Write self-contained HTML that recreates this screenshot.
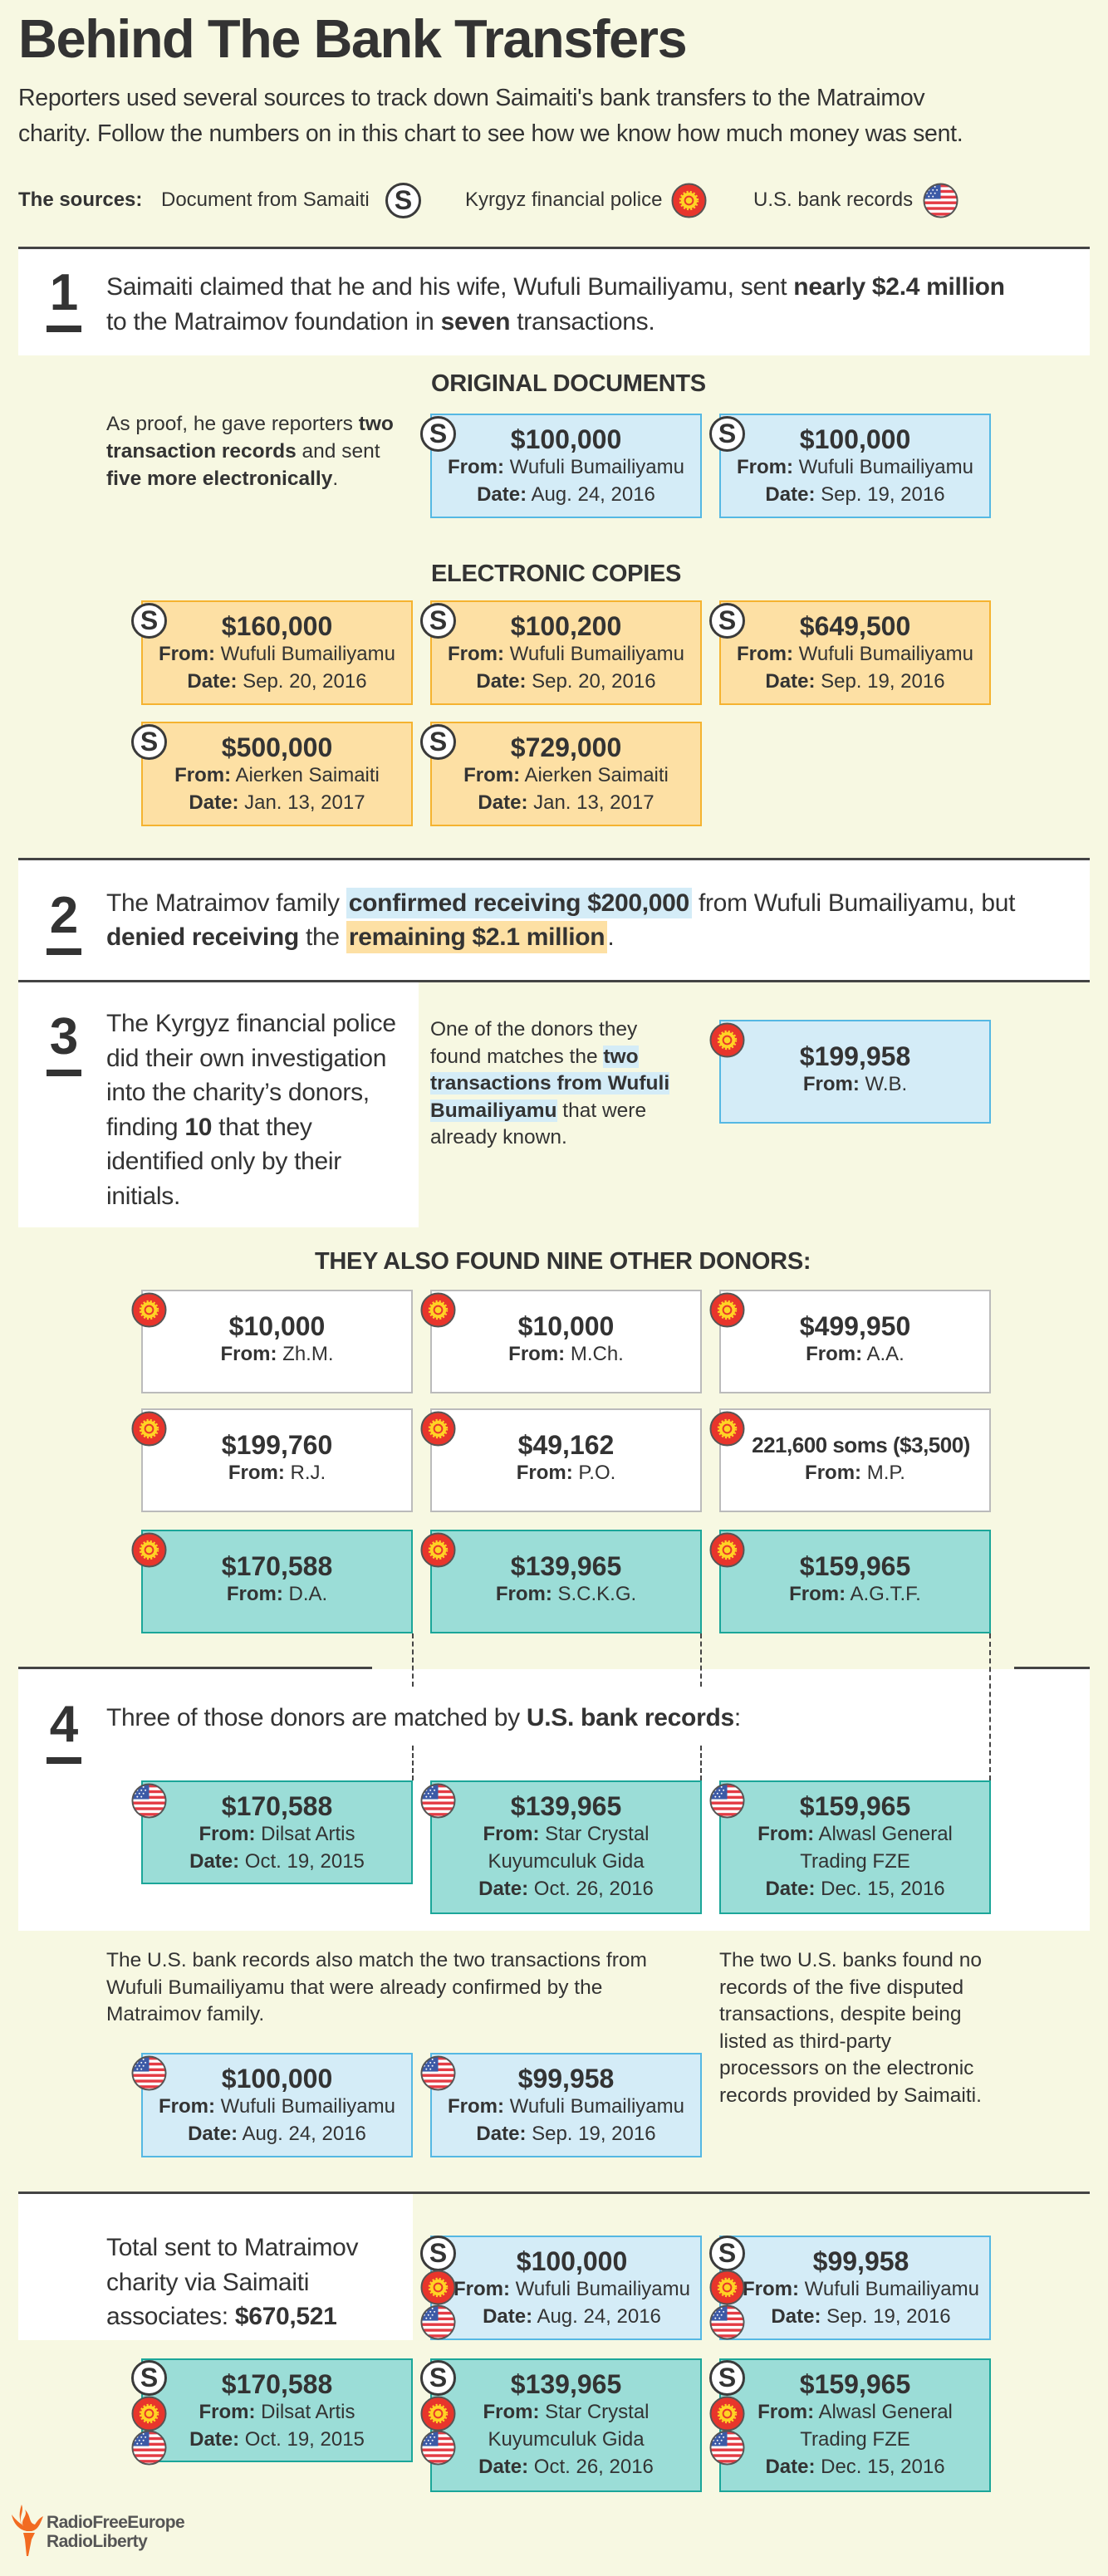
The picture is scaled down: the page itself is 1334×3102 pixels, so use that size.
<!DOCTYPE html>
<html><head><meta charset="utf-8">
<style>
*{margin:0;padding:0;box-sizing:border-box}
body{width:1334px;height:3102px;background:#f7f8e2;font-family:"Liberation Sans",sans-serif;color:#333;position:relative;overflow:hidden}
.a{position:absolute;white-space:nowrap}
.rule{position:absolute;height:3px;background:#444}
.wbox{position:absolute;background:#fff}
.num{position:absolute;left:56px;width:42px;font-weight:bold;font-size:62px;line-height:62px;text-align:center;color:#333}
.num:after{content:"";position:absolute;left:0;right:0;bottom:-16px;height:8px;background:#333}
.big{font-size:30px;line-height:41.5px;color:#333;letter-spacing:-0.3px}
.sm{font-size:24.5px;line-height:32.5px;color:#333}
.hd{font-weight:bold;font-size:29px;color:#333;letter-spacing:-0.3px}
.card{position:absolute;width:327px;height:126px;text-align:center;padding-top:12px;font-size:24px;line-height:33px;color:#333;white-space:nowrap}
.card .m{font-weight:bold;font-size:32px;line-height:34px}
.card.two{padding-top:25px}
.blue{background:#d4ecf7;border:2px solid #55b8e3}
.orange{background:#fde0a4;border:2px solid #f5b330}
.white{background:#fff;border:2px solid #bbb}
.teal{background:#9bddd7;border:2px solid #1ba699}
.ic{position:absolute;width:43px;height:43px}
.si{position:absolute;width:43px;height:43px;border-radius:50%;background:#fff;border:3px solid #3a3a3a;font-weight:bold;font-size:32px;line-height:37px;text-align:center;color:#333}
.hb{background:#d4ecf7}
.ho{background:#fde0a4}
.dot{position:absolute;width:0;border-left:2px dashed #444}
</style></head><body>
<svg width="0" height="0" style="position:absolute">
<defs>
<symbol id="kg" viewBox="0 0 44 44"><circle cx="22" cy="22" r="20.5" fill="#e8352c" stroke="#555" stroke-width="2"/><circle cx="22" cy="22" r="10" fill="#ffd324" stroke="#ffd324" stroke-width="4" stroke-dasharray="2 2"/><circle cx="22" cy="22" r="6" fill="#e8352c"/><circle cx="22" cy="22" r="4" fill="#ffd324"/></symbol>
<clipPath id="cc"><circle cx="22" cy="22" r="20"/></clipPath>
<symbol id="us" viewBox="0 0 44 44"><g clip-path="url(#cc)"><rect width="44" height="44" fill="#fff"/><rect y="2" width="44" height="3.5" fill="#e43b44"/><rect y="9" width="44" height="3.5" fill="#e43b44"/><rect y="16" width="44" height="3.5" fill="#e43b44"/><rect y="23" width="44" height="3.5" fill="#e43b44"/><rect y="30" width="44" height="3.5" fill="#e43b44"/><rect y="37" width="44" height="3.5" fill="#e43b44"/><rect width="22" height="20" fill="#3c5aa6"/><g fill="#fff"><circle cx="5" cy="5" r="1"/><circle cx="10" cy="5" r="1"/><circle cx="15" cy="5" r="1"/><circle cx="7.5" cy="9" r="1"/><circle cx="12.5" cy="9" r="1"/><circle cx="17.5" cy="9" r="1"/><circle cx="5" cy="13" r="1"/><circle cx="10" cy="13" r="1"/><circle cx="15" cy="13" r="1"/><circle cx="7.5" cy="17" r="1"/><circle cx="12.5" cy="17" r="1"/></g></g><circle cx="22" cy="22" r="20.5" fill="none" stroke="#555" stroke-width="2"/></symbol>
</defs></svg>

<!-- Header -->
<div class="a" style="left:22px;top:10px;font-size:65px;line-height:74px;font-weight:bold;letter-spacing:-1.5px;color:#333">Behind The Bank Transfers</div>
<div class="a" style="left:22px;top:97px;font-size:28.5px;line-height:43px;color:#333;letter-spacing:-0.3px">Reporters used several sources to track down Saimaiti's bank transfers to the Matraimov<br>charity. Follow the numbers on in this chart to see how we know how much money was sent.</div>
<div class="a" style="left:22px;top:226px;font-size:24px;line-height:30px;font-weight:bold">The sources:</div>
<div class="a" style="left:194px;top:226px;font-size:24px;line-height:30px">Document from Samaiti</div>
<div class="si" style="left:464px;top:220px">S</div>
<div class="a" style="left:560px;top:226px;font-size:24px;line-height:30px">Kyrgyz financial police</div>
<svg class="ic" style="left:808px;top:220px"><use href="#kg"/></svg>
<div class="a" style="left:907px;top:226px;font-size:24px;line-height:30px">U.S. bank records</div>
<svg class="ic" style="left:1111px;top:220px"><use href="#us"/></svg>

<!-- Section 1 -->
<div class="rule" style="left:22px;top:297px;width:1290px"></div>
<div class="wbox" style="left:22px;top:300px;width:1290px;height:128px"></div>
<div class="num" style="top:322px">1</div>
<div class="a big" style="left:128px;top:325px;line-height:42px">Saimaiti claimed that he and his wife, Wufuli Bumailiyamu, sent <b>nearly $2.4 million</b><br>to the Matraimov foundation in <b>seven</b> transactions.</div>
<div class="a hd" style="left:519px;top:446px">ORIGINAL DOCUMENTS</div>
<div class="a sm" style="left:128px;top:494px;line-height:33px">As proof, he gave reporters <b>two</b><br><b>transaction records</b> and sent<br><b>five more electronically</b>.</div>

<div class="card blue" style="left:518px;top:498px"><div class="m">$100,000</div><b>From:</b> Wufuli Bumailiyamu<br><b>Date:</b> Aug. 24, 2016</div>
<div class="si" style="left:506px;top:501px">S</div>
<div class="card blue" style="left:866px;top:498px"><div class="m">$100,000</div><b>From:</b> Wufuli Bumailiyamu<br><b>Date:</b> Sep. 19, 2016</div>
<div class="si" style="left:854px;top:501px">S</div>

<div class="a hd" style="left:519px;top:675px">ELECTRONIC COPIES</div>
<div class="card orange" style="left:170px;top:723px"><div class="m">$160,000</div><b>From:</b> Wufuli Bumailiyamu<br><b>Date:</b> Sep. 20, 2016</div>
<div class="si" style="left:158px;top:726px">S</div>
<div class="card orange" style="left:518px;top:723px"><div class="m">$100,200</div><b>From:</b> Wufuli Bumailiyamu<br><b>Date:</b> Sep. 20, 2016</div>
<div class="si" style="left:506px;top:726px">S</div>
<div class="card orange" style="left:866px;top:723px"><div class="m">$649,500</div><b>From:</b> Wufuli Bumailiyamu<br><b>Date:</b> Sep. 19, 2016</div>
<div class="si" style="left:854px;top:726px">S</div>
<div class="card orange" style="left:170px;top:869px"><div class="m">$500,000</div><b>From:</b> Aierken Saimaiti<br><b>Date:</b> Jan. 13, 2017</div>
<div class="si" style="left:158px;top:872px">S</div>
<div class="card orange" style="left:518px;top:869px"><div class="m">$729,000</div><b>From:</b> Aierken Saimaiti<br><b>Date:</b> Jan. 13, 2017</div>
<div class="si" style="left:506px;top:872px">S</div>

<!-- Section 2 -->
<div class="rule" style="left:22px;top:1033px;width:1290px"></div>
<div class="wbox" style="left:22px;top:1036px;width:1290px;height:144px"></div>
<div class="num" style="top:1072px">2</div>
<div class="a big" style="left:128px;top:1067px;line-height:41px">The Matraimov family <b class="hb" style="padding:2px 3px">confirmed receiving $200,000</b> from Wufuli Bumailiyamu, but<br><b>denied receiving</b> the <b class="ho" style="padding:3px 3px">remaining $2.1 million</b>.</div>
<div class="rule" style="left:22px;top:1180px;width:1290px"></div>

<!-- Section 3 -->
<div class="wbox" style="left:22px;top:1183px;width:482px;height:295px"></div>
<div class="num" style="top:1218px">3</div>
<div class="a big" style="left:128px;top:1212px">The Kyrgyz financial police<br>did their own investigation<br>into the charity’s donors,<br>finding <b>10</b> that they<br>identified only by their<br>initials.</div>
<div class="a sm" style="left:518px;top:1224px">One of the donors they<br>found matches the <b class="hb">two</b><br><b class="hb">transactions from Wufuli</b><br><b class="hb">Bumailiyamu</b> that were<br>already known.</div>
<div class="card blue two" style="left:866px;top:1228px;height:125px"><div class="m">$199,958</div><b>From:</b> W.B.</div>
<svg class="ic" style="left:854px;top:1231px"><use href="#kg"/></svg>

<div class="a hd" style="left:379px;top:1503px;font-size:29px">THEY ALSO FOUND NINE OTHER DONORS:</div>
<div class="card white two" style="left:170px;top:1553px;height:125px"><div class="m">$10,000</div><b>From:</b> Zh.M.</div>
<svg class="ic" style="left:158px;top:1556px"><use href="#kg"/></svg>
<div class="card white two" style="left:518px;top:1553px;height:125px"><div class="m">$10,000</div><b>From:</b> M.Ch.</div>
<svg class="ic" style="left:506px;top:1556px"><use href="#kg"/></svg>
<div class="card white two" style="left:866px;top:1553px;height:125px"><div class="m">$499,950</div><b>From:</b> A.A.</div>
<svg class="ic" style="left:854px;top:1556px"><use href="#kg"/></svg>
<div class="card white two" style="left:170px;top:1696px;height:125px"><div class="m">$199,760</div><b>From:</b> R.J.</div>
<svg class="ic" style="left:158px;top:1699px"><use href="#kg"/></svg>
<div class="card white two" style="left:518px;top:1696px;height:125px"><div class="m">$49,162</div><b>From:</b> P.O.</div>
<svg class="ic" style="left:506px;top:1699px"><use href="#kg"/></svg>
<div class="card white two" style="left:866px;top:1696px;height:125px"><div class="m" style="font-size:26px;letter-spacing:-0.5px;padding-left:14px">221,600 soms ($3,500)</div><b>From:</b> M.P.</div>
<svg class="ic" style="left:854px;top:1699px"><use href="#kg"/></svg>
<div class="card teal two" style="left:170px;top:1842px;height:125px"><div class="m">$170,588</div><b>From:</b> D.A.</div>
<svg class="ic" style="left:158px;top:1845px"><use href="#kg"/></svg>
<div class="card teal two" style="left:518px;top:1842px;height:125px"><div class="m">$139,965</div><b>From:</b> S.C.K.G.</div>
<svg class="ic" style="left:506px;top:1845px"><use href="#kg"/></svg>
<div class="card teal two" style="left:866px;top:1842px;height:125px"><div class="m">$159,965</div><b>From:</b> A.G.T.F.</div>
<svg class="ic" style="left:854px;top:1845px"><use href="#kg"/></svg>

<!-- Section 4 -->
<div class="rule" style="left:22px;top:2007px;width:426px"></div>
<div class="rule" style="left:1221px;top:2007px;width:91px"></div>
<div class="wbox" style="left:22px;top:2010px;width:1290px;height:315px"></div>
<div class="dot" style="left:496px;top:1967px;height:64px"></div>
<div class="dot" style="left:843px;top:1967px;height:64px"></div>
<div class="dot" style="left:496px;top:2102px;height:42px"></div>
<div class="dot" style="left:843px;top:2102px;height:42px"></div>
<div class="dot" style="left:1191px;top:1967px;height:177px"></div>
<div class="num" style="top:2046px">4</div>
<div class="a big" style="left:128px;top:2048px">Three of those donors are matched by <b>U.S. bank records</b>:</div>
<div class="card teal" style="left:170px;top:2144px;height:125px"><div class="m">$170,588</div><b>From:</b> Dilsat Artis<br><b>Date:</b> Oct. 19, 2015</div>
<svg class="ic" style="left:158px;top:2147px"><use href="#us"/></svg>
<div class="card teal" style="left:518px;top:2144px;height:161px"><div class="m">$139,965</div><b>From:</b> Star Crystal<br>Kuyumculuk Gida<br><b>Date:</b> Oct. 26, 2016</div>
<svg class="ic" style="left:506px;top:2147px"><use href="#us"/></svg>
<div class="card teal" style="left:866px;top:2144px;height:161px"><div class="m">$159,965</div><b>From:</b> Alwasl General<br>Trading FZE<br><b>Date:</b> Dec. 15, 2016</div>
<svg class="ic" style="left:854px;top:2147px"><use href="#us"/></svg>

<div class="a sm" style="left:128px;top:2345px">The U.S. bank records also match the two transactions from<br>Wufuli Bumailiyamu that were already confirmed by the<br>Matraimov family.</div>
<div class="a sm" style="left:866px;top:2345px">The two U.S. banks found no<br>records of the five disputed<br>transactions, despite being<br>listed as third-party<br>processors on the electronic<br>records provided by Saimaiti.</div>
<div class="card blue" style="left:170px;top:2472px"><div class="m">$100,000</div><b>From:</b> Wufuli Bumailiyamu<br><b>Date:</b> Aug. 24, 2016</div>
<svg class="ic" style="left:158px;top:2475px"><use href="#us"/></svg>
<div class="card blue" style="left:518px;top:2472px"><div class="m">$99,958</div><b>From:</b> Wufuli Bumailiyamu<br><b>Date:</b> Sep. 19, 2016</div>
<svg class="ic" style="left:506px;top:2475px"><use href="#us"/></svg>

<!-- Section 5 -->
<div class="rule" style="left:22px;top:2639px;width:1290px"></div>
<div class="wbox" style="left:22px;top:2642px;width:475px;height:176px"></div>
<div class="a big" style="left:128px;top:2686px">Total sent to Matraimov<br>charity via Saimaiti<br>associates: <b>$670,521</b></div>

<div class="card blue" style="left:518px;top:2692px;padding-left:14px"><div class="m">$100,000</div><b>From:</b> Wufuli Bumailiyamu<br><b>Date:</b> Aug. 24, 2016</div>
<div class="si" style="left:506px;top:2692px">S</div>
<svg class="ic" style="left:506px;top:2733px"><use href="#kg"/></svg>
<svg class="ic" style="left:506px;top:2775px"><use href="#us"/></svg>
<div class="card blue" style="left:866px;top:2692px;padding-left:14px"><div class="m">$99,958</div><b>From:</b> Wufuli Bumailiyamu<br><b>Date:</b> Sep. 19, 2016</div>
<div class="si" style="left:854px;top:2692px">S</div>
<svg class="ic" style="left:854px;top:2733px"><use href="#kg"/></svg>
<svg class="ic" style="left:854px;top:2775px"><use href="#us"/></svg>

<div class="card teal" style="left:170px;top:2840px;height:125px"><div class="m">$170,588</div><b>From:</b> Dilsat Artis<br><b>Date:</b> Oct. 19, 2015</div>
<div class="si" style="left:158px;top:2842px">S</div>
<svg class="ic" style="left:158px;top:2885px"><use href="#kg"/></svg>
<svg class="ic" style="left:158px;top:2926px"><use href="#us"/></svg>
<div class="card teal" style="left:518px;top:2840px;height:161px"><div class="m">$139,965</div><b>From:</b> Star Crystal<br>Kuyumculuk Gida<br><b>Date:</b> Oct. 26, 2016</div>
<div class="si" style="left:506px;top:2842px">S</div>
<svg class="ic" style="left:506px;top:2885px"><use href="#kg"/></svg>
<svg class="ic" style="left:506px;top:2926px"><use href="#us"/></svg>
<div class="card teal" style="left:866px;top:2840px;height:161px"><div class="m">$159,965</div><b>From:</b> Alwasl General<br>Trading FZE<br><b>Date:</b> Dec. 15, 2016</div>
<div class="si" style="left:854px;top:2842px">S</div>
<svg class="ic" style="left:854px;top:2885px"><use href="#kg"/></svg>
<svg class="ic" style="left:854px;top:2926px"><use href="#us"/></svg>

<!-- Logo -->
<svg class="a" style="left:12px;top:3014px" width="44" height="64" viewBox="0 0 44 64"><path d="M14 2 C18 12 8 18 16 28 C12 20 22 16 18 8 C26 16 22 24 30 26 C34 20 36 18 40 16 C36 26 34 32 26 34 L20 34 C10 32 4 24 2 14 C8 22 12 24 14 26 C10 16 12 8 14 2Z" fill="#f26b21"/><path d="M16 36 L30 36 L26 44 L22 64 L20 64 L18 44Z" fill="#f26b21"/></svg>
<div class="a" style="left:56px;top:3026px;font-size:21px;line-height:23px;font-weight:bold;color:#555;letter-spacing:-0.6px">RadioFreeEurope<br>RadioLiberty</div>
</body></html>
